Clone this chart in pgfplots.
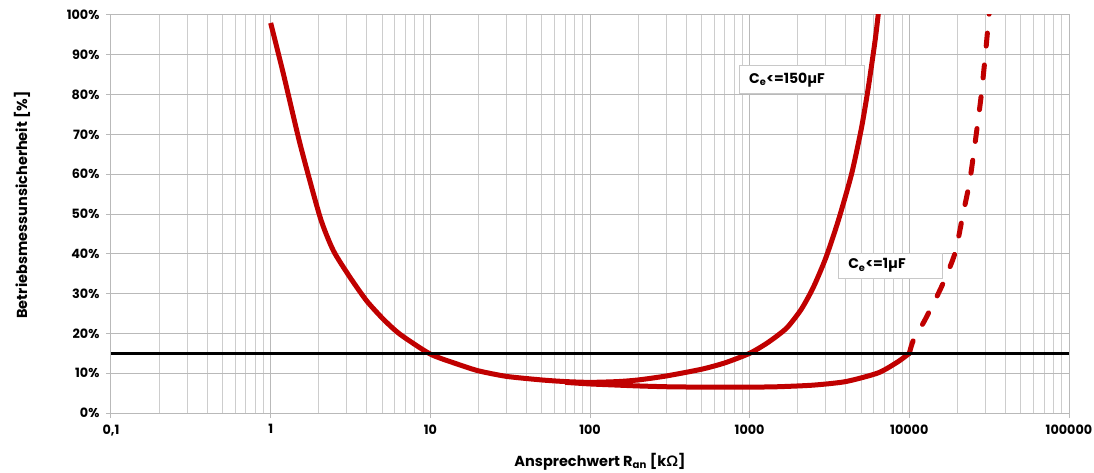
\documentclass[border=0pt]{standalone}
\usepackage{fontspec}
\usepackage{pgfplots}
\pgfplotsset{compat=1.18}
\setmainfont{Poppins}
\newfontfamily\greekfont{Lato}
\definecolor{cred}{RGB}{192,0,0}
\definecolor{gridc}{RGB}{185,185,185}
\definecolor{mgridc}{RGB}{205,205,205}
\definecolor{boxc}{RGB}{200,200,200}
\begin{document}
\begin{tikzpicture}
\path[use as bounding box] (-111pt,-59pt) rectangle (983pt,413pt);
\begin{axis}[
  scale only axis,
  width=958pt, height=398pt,
  xmode=log, log basis x=10,
  xmin=0.1, xmax=100000, ymin=0, ymax=100,
  xtick={0.1,1,10,100,1000,10000,100000},
  xticklabels={{0,1},1,10,100,1000,10000,100000},
  minor xtick={0.2,0.3,0.4,0.5,0.6,0.7,0.8,0.9,
    2,3,4,5,6,7,8,9,
    20,30,40,50,60,70,80,90,
    200,300,400,500,600,700,800,900,
    2000,3000,4000,5000,6000,7000,8000,9000,
    20000,30000,40000,50000,60000,70000,80000,90000},
  ytick={0,10,...,100},
  yticklabels={0\%,10\%,20\%,30\%,40\%,50\%,60\%,70\%,80\%,90\%,100\%},
  grid=both,
  major grid style={draw=gridc, line width=1pt},
  minor grid style={draw=mgridc, line width=1pt},
  axis line style={draw=gridc, line width=1pt},
  tick align=outside,
  major tick length=5pt,
  minor tick length=0pt,
  tick style={draw=gridc, line width=1pt},
  xtick pos=bottom, ytick pos=left,
  tick label style={font=\bfseries\fontsize{12.8}{14}\selectfont},
  xticklabel style={yshift=-3pt},
  yticklabel style={xshift=-3pt},
  xlabel={Ansprechwert R\textsubscript{an} [k{\greekfont\bfseries Ω}]},
  ylabel={Betriebsmessunsicherheit [\%]},
  label style={font=\bfseries\fontsize{14.5}{16}\selectfont},
  xlabel style={at={([xshift=10pt,yshift=-49pt]axis description cs:0.5,0)}, anchor=center},
  ylabel style={at={([xshift=-89pt,yshift=9pt]axis description cs:0,0.5)}, anchor=center},
  clip=true,
]
% shared part + C_e <= 150uF
\addplot[cred, line width=5pt, smooth, tension=0.4] coordinates {
  (1,98) (1.2,85.3) (1.53,67.5) (2.04,49.2) (2.47,40.8) (3.14,34.1)
  (3.99,28.2) (5.07,23.6) (6.45,19.8) (10,14.8) (15,12.2) (20,10.6)
  (30,9.2) (50,8.3) (70,7.9) (100,7.7) (150,7.9) (200,8.3) (300,9.3)
  (500,11.0) (700,12.6) (1000,15) (1300,17.7) (1700,21.3) (2100,26)
  (2500,31.5) (3000,39) (3600,48.5) (4357,60.2) (5030,71.9) (5545,82)
  (6110,93.7) (6400,100.5)
};
% C_e <= 1uF solid part
\addplot[cred, line width=5pt, smooth, tension=0.4] coordinates {
  (70,7.7) (100,7.3) (150,7.0) (200,6.8) (300,6.6) (500,6.5) (1000,6.5)
  (1500,6.6) (2500,7.0) (4000,7.9) (6400,10.1) (8500,12.9) (10000,15)
};
% C_e <= 1uF dashed part
\addplot[cred, line width=5pt, smooth, tension=0.4, line cap=round,
  dash pattern=on 13pt off 19pt] coordinates {
  (10000,15) (10600,18.3) (12530,23.4) (15900,31.7) (19300,40.1)
  (21750,50.2) (23950,58.5) (26300,70.3) (28300,80.3) (30000,90.4)
  (31500,99.6) (31800,101)
};
% 15% limit
\addplot[black, line width=3pt] coordinates {(0.1,15) (100000,15)};
\node[draw=boxc, fill=white, line width=1pt, anchor=north west,
  minimum width=125pt, minimum height=28pt, inner xsep=10pt, text width=105pt,
  align=left, font=\bfseries\fontsize{14}{16}\selectfont]
  at (axis cs:853,87.4) {C\textsubscript{e}<=150µF};
\node[draw=boxc, fill=white, line width=1pt, anchor=north west,
  minimum width=104pt, minimum height=25pt, inner xsep=10pt, text width=84pt,
  align=left, font=\bfseries\fontsize{14}{16}\selectfont]
  at (axis cs:3565,40.3) {C\textsubscript{e}<=1µF};
\end{axis}
\end{tikzpicture}
\end{document}
